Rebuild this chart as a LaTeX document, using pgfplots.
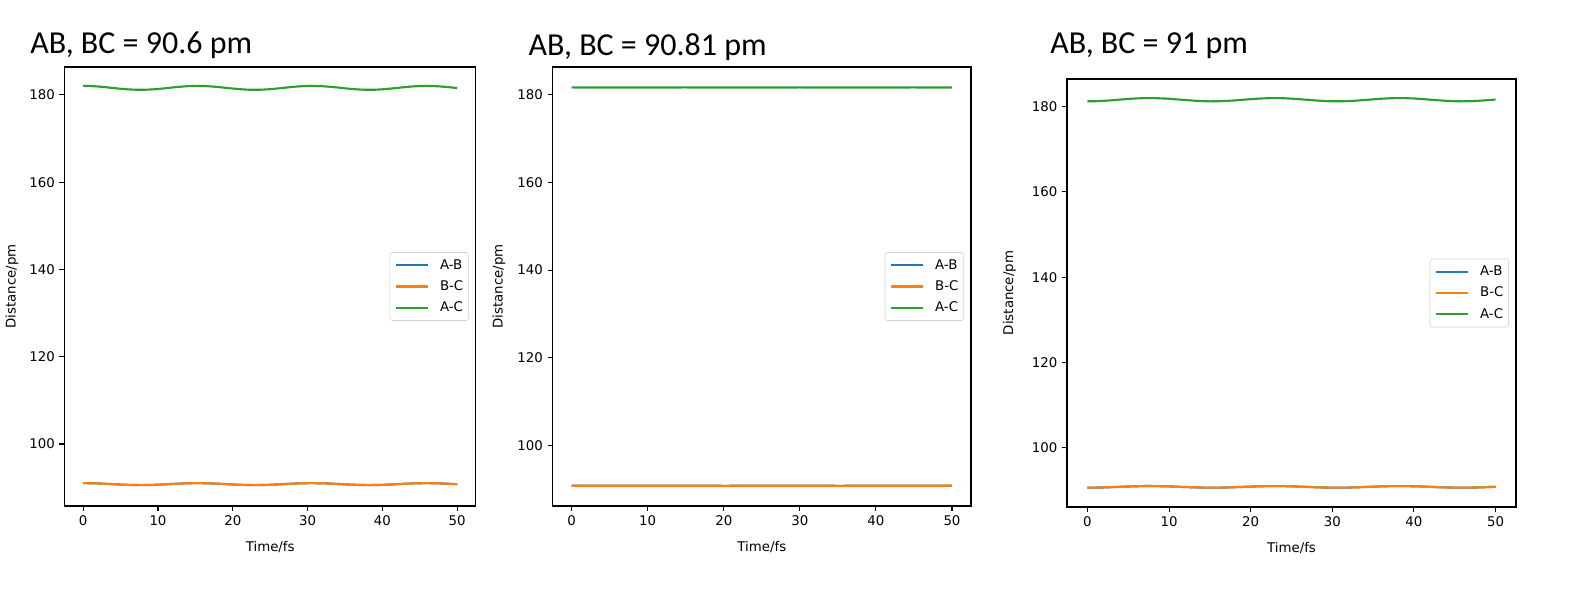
\documentclass[border=0pt]{standalone}
\usepackage{fontspec}
\setmainfont{DejaVu Sans}
\newfontfamily\titlefont{Carlito}
\usepackage{pgfplots}
\usepackage{pgfplotstable}
\pgfplotsset{compat=1.18}
\definecolor{mplblue}{RGB}{31,119,180}
\definecolor{mplorange}{RGB}{255,127,14}
\definecolor{mplgreen}{RGB}{44,160,44}

\pgfplotstableread{
t ab bc ac
0 91.04 91.04 182.07
1 91.02 91.02 182.03
2 90.97 90.97 181.93
3 90.89 90.89 181.77
4 90.80 90.80 181.59
5 90.71 90.71 181.41
6 90.64 90.64 181.27
7 90.60 90.60 181.19
8 90.59 90.59 181.17
9 90.62 90.62 181.24
10 90.68 90.68 181.36
11 90.77 90.77 181.53
12 90.86 90.86 181.72
13 90.94 90.94 181.88
14 91.01 91.01 182.01
15 91.04 91.04 182.07
16 91.03 91.03 182.05
17 90.98 90.98 181.96
18 90.91 90.91 181.82
19 90.82 90.82 181.64
20 90.73 90.73 181.46
21 90.66 90.66 181.31
22 90.60 90.60 181.20
23 90.59 90.59 181.17
24 90.61 90.61 181.21
25 90.66 90.66 181.32
26 90.74 90.74 181.48
27 90.83 90.83 181.66
28 90.92 90.92 181.84
29 90.99 90.99 181.98
30 91.03 91.03 182.06
31 91.03 91.03 182.06
32 91.00 91.00 182.00
33 90.94 90.94 181.87
34 90.85 90.85 181.70
35 90.76 90.76 181.51
36 90.68 90.68 181.35
37 90.62 90.62 181.23
38 90.59 90.59 181.17
39 90.60 90.60 181.19
40 90.64 90.64 181.28
41 90.72 90.72 181.43
42 90.81 90.81 181.61
43 90.90 90.90 181.79
44 90.97 90.97 181.94
45 91.02 91.02 182.04
46 91.04 91.04 182.07
47 91.01 91.01 182.02
48 90.96 90.96 181.91
49 90.88 90.88 181.75
50 90.79 90.79 181.57
}\panelA

\pgfplotstableread{
t ab bc ac
0 90.82 90.82 181.64
5 90.81 90.81 181.62
10 90.81 90.81 181.63
15 90.82 90.82 181.64
20 90.80 90.80 181.61
25 90.81 90.81 181.62
30 90.82 90.82 181.64
35 90.80 90.80 181.61
40 90.81 90.81 181.63
45 90.82 90.82 181.64
50 90.81 90.81 181.62
}\panelB

\pgfplotstableread{
t ab bc ac
0 90.63 90.63 181.26
1 90.65 90.65 181.29
2 90.69 90.69 181.38
3 90.76 90.76 181.51
4 90.84 90.84 181.67
5 90.91 90.91 181.82
6 90.97 90.97 181.94
7 91.01 91.01 182.01
8 91.01 91.01 182.02
9 90.98 90.98 181.96
10 90.93 90.93 181.86
11 90.86 90.86 181.71
12 90.78 90.78 181.56
13 90.71 90.71 181.42
14 90.66 90.66 181.31
15 90.63 90.63 181.26
16 90.64 90.64 181.28
17 90.68 90.68 181.35
18 90.74 90.74 181.47
19 90.81 90.81 181.62
20 90.89 90.89 181.77
21 90.95 90.95 181.90
22 91.00 91.00 181.99
23 91.01 91.01 182.02
24 91.00 91.00 181.99
25 90.95 90.95 181.89
26 90.88 90.88 181.76
27 90.81 90.81 181.61
28 90.73 90.73 181.46
29 90.67 90.67 181.34
30 90.64 90.64 181.27
31 90.64 90.64 181.27
32 90.66 90.66 181.32
33 90.72 90.72 181.43
34 90.79 90.79 181.57
35 90.87 90.87 181.73
36 90.94 90.94 181.87
37 90.99 90.99 181.97
38 91.01 91.01 182.02
39 91.00 91.00 182.00
40 90.97 90.97 181.93
41 90.90 90.90 181.80
42 90.83 90.83 181.65
43 90.75 90.75 181.50
44 90.69 90.69 181.37
45 90.65 90.65 181.29
46 90.63 90.63 181.26
47 90.65 90.65 181.30
48 90.70 90.70 181.39
49 90.77 90.77 181.53
50 90.84 90.84 181.68
}\panelC

\pgfplotsset{
  mplaxis/.style={
    scale only axis,
    anchor=south west,
    xmin=-2.5, xmax=52.5,
    xtick={0,10,20,30,40,50},
    ytick={100,120,140,160,180},
    tick pos=left,
    tick align=outside,
    major tick length=3.75pt,
    every tick/.style={black, line width=0.8pt},
    axis line style={black, line width=0.8pt},
    tick label style={font=\fontsize{10}{12}\selectfont, black},
    label style={font=\fontsize{10}{12}\selectfont},
    /pgf/number format/assume math mode=true,
    xlabel={Time/fs},
    ylabel={Distance/pm},
    ylabel style={at={(axis description cs:-0.128,0.5)}, anchor=center},
    legend cell align=left,
    legend image code/.code={\draw[##1] (0pt,0pt) -- (24pt,0pt);},
    legend style={
      at={(1,0.5)}, anchor=east, xshift=-5.25pt,
      draw=black!18, rounded corners=2pt, fill=white,
      font=\fontsize{10}{12}\selectfont,
      inner xsep=4pt, inner ysep=5pt,
      row sep=7pt, column sep=8pt,
      nodes={inner sep=0pt, text height=7.5pt, text depth=1.5pt},
    },
  },
  every axis plot/.append style={line width=1.6pt, no markers},
}

\begin{document}
\begin{tikzpicture}
\path[use as bounding box] (0,0) rectangle (1183.5pt,444pt);

% Panel 1
\begin{axis}[mplaxis, at={(48.375pt,64.5pt)}, width=308.55pt, height=329.25pt,
  ymin=85.8, ymax=186.4,
  xlabel style={at={(axis description cs:0.5,-0.093)}, anchor=center}]
\addplot[mplblue] table[x=t, y=ab] {\panelA};
\addlegendentry{A-B}
\addplot[mplorange] table[x=t, y=bc] {\panelA};
\addlegendentry{B-C}
\addplot[mplgreen] table[x=t, y=ac] {\panelA};
\addlegendentry{A-C}
\end{axis}

% Panel 2
\begin{axis}[mplaxis, at={(414.45pt,64.5pt)}, width=313.8pt, height=329.25pt,
  ymin=86.2, ymax=186.3,
  xlabel style={at={(axis description cs:0.5,-0.093)}, anchor=center}]
\addplot[mplblue] table[x=t, y=ab] {\panelB};
\addlegendentry{A-B}
\addplot[mplorange] table[x=t, y=bc] {\panelB};
\addlegendentry{B-C}
\addplot[mplgreen] table[x=t, y=ac] {\panelB};
\addlegendentry{A-C}
\end{axis}

% Panel 3
\begin{axis}[mplaxis, at={(800.25pt,63.75pt)}, width=336.75pt, height=321pt,
  ymin=86.1, ymax=186.5,
  xlabel style={at={(axis description cs:0.5,-0.097)}, anchor=center}]
\addplot[mplblue] table[x=t, y=ab] {\panelC};
\addlegendentry{A-B}
\addplot[mplorange] table[x=t, y=bc] {\panelC};
\addlegendentry{B-C}
\addplot[mplgreen] table[x=t, y=ac] {\panelC};
\addlegendentry{A-C}
\end{axis}

% Titles
\node[anchor=base west, inner sep=0pt, font=\titlefont\fontsize{24}{28}\selectfont] at (22.5pt,404pt) {AB, BC = 90.6 pm};
\node[anchor=base west, inner sep=0pt, font=\titlefont\fontsize{24}{28}\selectfont] at (396.2pt,402pt) {AB, BC = 90.81 pm};
\node[anchor=base west, inner sep=0pt, font=\titlefont\fontsize{24}{28}\selectfont] at (787.5pt,403.5pt) {AB, BC = 91 pm};
\end{tikzpicture}
\end{document}
